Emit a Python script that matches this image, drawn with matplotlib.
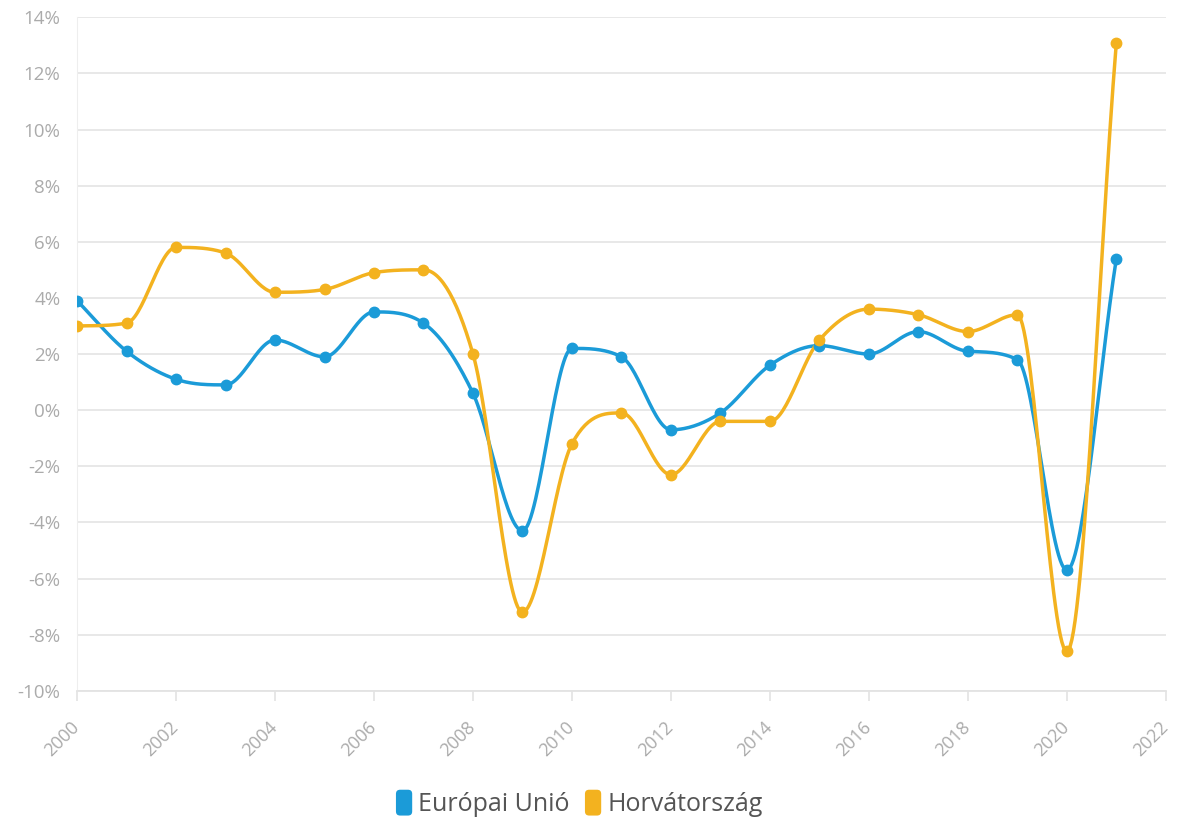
import numpy as np
import matplotlib
matplotlib.use("Agg")
import matplotlib.pyplot as plt
import matplotlib.transforms as mtransforms
from matplotlib.patches import FancyBboxPatch
from matplotlib.legend_handler import HandlerPatch

years = list(range(2000, 2022))
eu = [3.9, 2.1, 1.1, 0.9, 2.5, 1.9, 3.5, 3.1, 0.6, -4.3, 2.2, 1.9, -0.7, -0.1,
      1.6, 2.3, 2.0, 2.8, 2.1, 1.8, -5.7, 5.4]
hr = [3.0, 3.1, 5.8, 5.6, 4.2, 4.3, 4.9, 5.0, 2.0, -7.2, -1.2, -0.1, -2.3, -0.4,
      -0.4, 2.5, 3.6, 3.4, 2.8, 3.4, -8.6, 13.1]
series_names = ["Európai Unió", "Horvátország"]
colors = ["#1b9bd8", "#f3b21f"]
yticks = list(range(-10, 15, 2))
xticks = list(range(2000, 2023, 2))

plt.rcParams['font.family'] = ['Open Sans', 'DejaVu Sans']


def monotone_curve(x, y, n=30):
    x = np.asarray(x, float)
    y = np.asarray(y, float)
    h = np.diff(x)
    d = np.diff(y) / h
    m = np.zeros_like(y)
    m[0] = d[0]
    m[-1] = d[-1]
    for i in range(1, len(y) - 1):
        if d[i - 1] * d[i] <= 0:
            m[i] = 0.0
        else:
            m[i] = (d[i - 1] + d[i]) / 2
    for i in range(len(d)):
        if d[i] == 0:
            m[i] = m[i + 1] = 0
        else:
            a = m[i] / d[i]
            b = m[i + 1] / d[i]
            s = a * a + b * b
            if s > 9:
                t = 3 / np.sqrt(s)
                m[i] = t * a * d[i]
                m[i + 1] = t * b * d[i]
    xs, ys = [], []
    for i in range(len(d)):
        t = np.linspace(0, 1, n, endpoint=False)
        h00 = 2 * t**3 - 3 * t**2 + 1
        h10 = t**3 - 2 * t**2 + t
        h01 = -2 * t**3 + 3 * t**2
        h11 = t**3 - t**2
        xs.append(x[i] + t * h[i])
        ys.append(h00 * y[i] + h10 * h[i] * m[i] + h01 * y[i + 1] + h11 * h[i] * m[i + 1])
    xs.append([x[-1]])
    ys.append([y[-1]])
    return np.concatenate(xs), np.concatenate(ys)


fig = plt.figure(figsize=(11.8, 8.23), dpi=100)
ax = fig.add_axes([0.0653, 0.1607, 0.9227, 0.8183])

for vals, col, name in zip([eu, hr], colors, series_names):
    cx, cy = monotone_curve(years, vals)
    ax.plot(cx, cy, color=col, lw=2.5, solid_capstyle='round', zorder=3)
    ax.plot(years, vals, 'o', color=col, ms=7.5, zorder=4)

ax.set_xlim(2000, 2022)
ax.set_ylim(-10, 14)
ax.set_yticks(yticks)
ax.set_yticklabels([f"{v}%" for v in yticks])
ax.set_xticks(xticks)
ax.set_xticklabels([str(v) for v in xticks], rotation=45, ha='right', va='center',
                   rotation_mode='anchor')
offset = mtransforms.ScaledTranslation(5 / 100, 0, fig.dpi_scale_trans)
for lab in ax.get_xticklabels():
    lab.set_transform(lab.get_transform() + offset)

ax.grid(axis='y', color='#e6e6e6', lw=1.3)
ax.set_axisbelow(True)
for s in ['top', 'right']:
    ax.spines[s].set_visible(False)
ax.spines['left'].set_color('#eeeeee')
ax.spines['bottom'].set_color('#e3e3e3')
ax.spines['bottom'].set_linewidth(1.3)
ax.tick_params(axis='y', length=0, pad=12, labelsize=13.5, labelcolor='#ababab')
ax.tick_params(axis='x', length=7, width=1.2, color='#e3e3e3', pad=17, labelsize=13,
               labelcolor='#ababab')


class RoundHandler(HandlerPatch):
    def create_artists(self, legend, orig_handle, xdescent, ydescent, width, height, fontsize, trans):
        p = FancyBboxPatch((xdescent, ydescent - 3), width, height + 6,
                           boxstyle="round,pad=0,rounding_size=3",
                           facecolor=orig_handle.get_facecolor(), edgecolor='none',
                           transform=trans)
        return [p]


handles = [plt.Rectangle((0, 0), 1, 1, facecolor=c) for c in colors]
fig.legend(handles, series_names, loc='center', bbox_to_anchor=(0.491, 0.022),
           ncol=2, frameon=False, fontsize=18, handlelength=0.65, handleheight=0.7,
           handletextpad=0.25, columnspacing=0.6, labelcolor='#555555',
           handler_map={plt.Rectangle: RoundHandler()})

fig.savefig("out.png", dpi=100, facecolor='white')
